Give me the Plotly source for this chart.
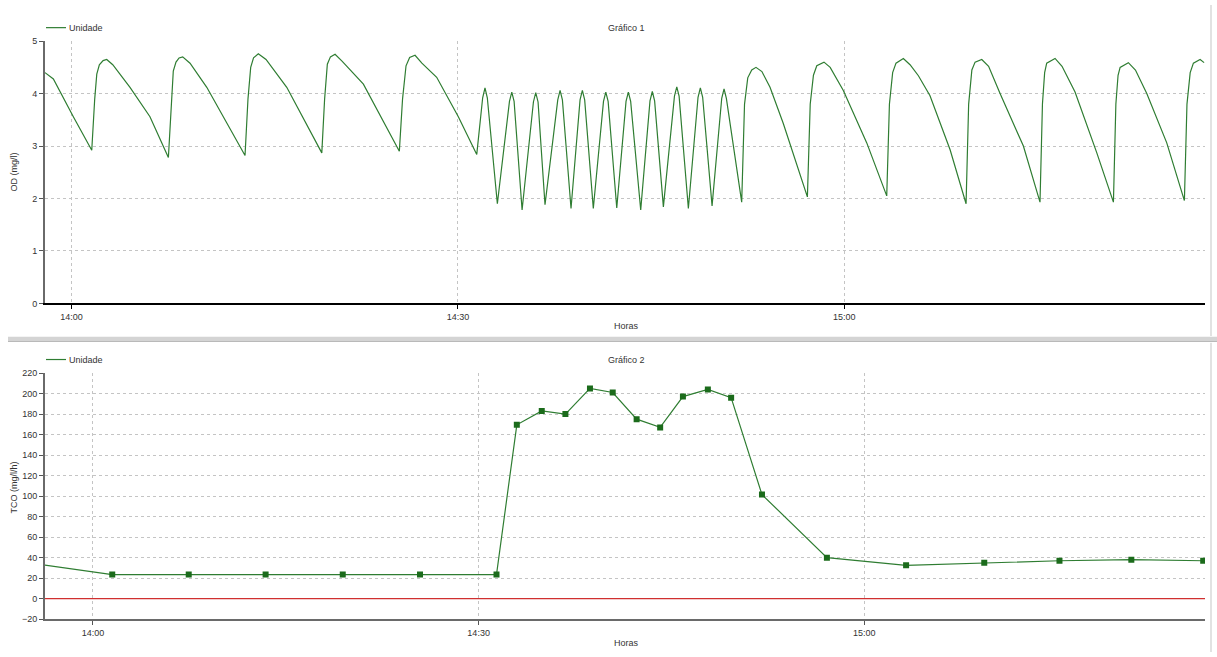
import pandas as pd
import plotly.graph_objects as go

# ---------------- data (minutes after 14:00) ----------------
BASE = pd.Timestamp("2024-01-01 14:00:00")

od_minutes = [-2.06, -1.41, 0.14, 1.57,
              1.80, 1.96, 2.16, 2.45, 2.73, 3.20, 4.54, 6.09, 7.52,
              7.75, 7.90, 8.11, 8.35, 8.63, 9.20, 10.50, 13.47,
              13.70, 13.91, 14.13, 14.50, 15.10, 16.71, 19.43,
              19.65, 19.86, 20.10, 20.46, 21.00, 22.66, 25.45,
              25.70, 25.97, 26.25, 26.67, 27.20, 28.35, 30.03, 31.46,
              31.92, 32.10, 32.28, 33.06,
              34.00, 34.18, 34.36, 34.98,
              35.86, 36.04, 36.22, 36.76,
              37.75, 37.93, 38.11, 38.78,
              39.48, 39.66, 39.84, 40.51,
              41.30, 41.48, 41.66, 42.33,
              43.05, 43.23, 43.41, 44.19,
              44.91, 45.09, 45.27, 45.95,
              46.81, 46.99, 47.17, 47.89,
              48.64, 48.82, 49.00, 49.73,
              50.48, 50.66, 50.84, 52.03,
              52.25, 52.50, 52.81, 53.14, 53.60, 54.23, 55.26, 57.13,
              57.35, 57.60, 57.86, 58.42, 58.90, 59.92, 61.74, 63.29,
              63.50, 63.75, 64.01, 64.58, 65.10, 65.75, 66.65, 68.21, 69.45,
              69.65, 69.90, 70.15, 70.67, 71.20, 72.09, 73.90, 75.19,
              75.38, 75.55, 75.71, 76.36, 76.90, 77.91, 79.60, 80.89,
              81.08, 81.25, 81.41, 82.05, 82.60, 83.48, 85.03, 86.40,
              86.60, 86.85, 87.10, 87.62, 87.93]
od_values = [4.40, 4.28, 3.56, 2.92,
             3.90, 4.37, 4.55, 4.63, 4.65, 4.55, 4.12, 3.56, 2.78,
             3.90, 4.43, 4.60, 4.68, 4.70, 4.58, 4.12, 2.82,
             3.90, 4.50, 4.68, 4.76, 4.65, 4.12, 2.87,
             3.90, 4.56, 4.70, 4.75, 4.62, 4.18, 2.90,
             3.90, 4.53, 4.69, 4.73, 4.58, 4.31, 3.56, 2.84,
             3.92, 4.11, 3.92, 1.90,
             3.85, 4.03, 3.85, 1.78,
             3.84, 4.02, 3.84, 1.88,
             3.88, 4.06, 3.88, 1.81,
             3.88, 4.06, 3.88, 1.81,
             3.85, 4.03, 3.85, 1.82,
             3.85, 4.03, 3.85, 1.78,
             3.86, 4.04, 3.86, 1.84,
             3.95, 4.13, 3.95, 1.81,
             3.93, 4.11, 3.93, 1.86,
             3.91, 4.09, 3.91, 1.93,
             3.80, 4.30, 4.45, 4.50, 4.42, 4.12, 3.43, 2.03,
             3.80, 4.35, 4.53, 4.60, 4.50, 4.06, 3.06, 2.05,
             3.80, 4.40, 4.58, 4.67, 4.55, 4.34, 3.96, 2.93, 1.90,
             3.80, 4.45, 4.60, 4.65, 4.52, 4.00, 3.00, 1.93,
             3.80, 4.40, 4.58, 4.67, 4.52, 4.03, 2.87, 1.93,
             3.80, 4.35, 4.50, 4.59, 4.45, 4.00, 3.06, 1.96,
             3.80, 4.40, 4.58, 4.65, 4.59]

tco_minutes = [-4.50, 1.50, 7.45, 13.43, 19.43, 25.44, 31.39, 32.97, 34.91, 36.75,
               38.66, 40.43, 42.29, 44.12, 45.89, 47.83, 49.64, 52.04, 57.09, 63.25,
               69.33, 75.18, 80.77, 86.36]
tco_values = [34.2, 23.5, 23.5, 23.5, 23.5, 23.5, 23.5, 169.5, 183.0, 180.0,
              205.0, 201.0, 175.0, 167.0, 197.0, 204.0, 196.0, 101.5, 40.0, 32.5,
              35.0, 37.0, 38.0, 37.0]

od_x_range = [-2.06, 88.0]
tco_x_range = [-3.73, 86.5]
od_y_range = [0, 5]
tco_y_range = [-20, 220]

# ---------------- helpers ----------------
def to_time(mins):
    return [BASE + pd.Timedelta(minutes=m) for m in mins]

W, H = 1217, 657
L, R = 45, 12
def px(xp):
    return (xp - L) / (W - L - R)
def py(yp):
    return 1 - yp / H

LINE_GREEN = "#2f7d32"
MARK_GREEN = "#1b6b1b"
GRID = "#c4c4c4"
TXT = "#333333"
FONT = "Liberation Sans, Arial, sans-serif"

fig = go.Figure()
fig.add_trace(go.Scatter(x=to_time(od_minutes), y=od_values, mode="lines",
                         line=dict(color=LINE_GREEN, width=1.2),
                         xaxis="x", yaxis="y", showlegend=False, name="Unidade"))
fig.add_trace(go.Scatter(x=to_time(tco_minutes), y=tco_values, mode="lines+markers",
                         line=dict(color=LINE_GREEN, width=1.2),
                         marker=dict(symbol="square", size=6, color=MARK_GREEN),
                         xaxis="x2", yaxis="y2", showlegend=False, name="Unidade"))

def fmt(t):
    return t.strftime("%Y-%m-%d %H:%M:%S.%f")

xcommon = dict(type="date", tickformat="%H:%M", dtick=30 * 60 * 1000,
               tick0=fmt(BASE), showgrid=True, gridcolor=GRID, griddash="3px,3px",
               gridwidth=1, zeroline=False, showline=True, ticks="outside",
               ticklen=4, tickfont=dict(size=9, color=TXT, family=FONT))
ycommon = dict(showgrid=True, gridcolor=GRID, griddash="3px,3px", gridwidth=1,
               zeroline=False, showline=True, linecolor="#6a6a6a", linewidth=2,
               ticks="outside", ticklen=4, tickcolor="#555",
               tickfont=dict(size=9, color=TXT, family=FONT))

fig.update_layout(
    width=W, height=H,
    margin=dict(l=L, r=R, t=0, b=0),
    paper_bgcolor="white", plot_bgcolor="white",
    font=dict(family=FONT, size=9, color=TXT),
    xaxis=dict(domain=[0, 1], anchor="y",
               range=[fmt(t) for t in to_time(od_x_range)],
               linecolor="black", linewidth=1.5, tickcolor="black", **xcommon),
    yaxis=dict(domain=[py(303), py(36.7)], anchor="x", range=od_y_range,
               dtick=1, **ycommon),
    xaxis2=dict(domain=[0, 1], anchor="y2",
                range=[fmt(t) for t in to_time(tco_x_range)],
                linecolor="#6a6a6a", linewidth=2, tickcolor="#555", **xcommon),
    yaxis2=dict(domain=[py(623.7), py(373.7)], anchor="x2", range=tco_y_range,
                dtick=20, **ycommon),
)

# zero reference line in red
fig.add_shape(type="line", xref="x2 domain", yref="y2", x0=0, x1=1, y0=0, y1=0,
              line=dict(color="#d03030", width=1.2))

# panel separator and right border
fig.add_shape(type="rect", xref="paper", yref="paper", x0=px(8), x1=px(1217),
              y0=py(341), y1=py(337), fillcolor="#d4d4d4", line=dict(width=0), layer="below")
fig.add_shape(type="line", xref="paper", yref="paper", x0=px(8), x1=px(1217),
              y0=py(341.5), y1=py(341.5), line=dict(color="#a8a8a8", width=1))
fig.add_shape(type="line", xref="paper", yref="paper", x0=px(1211), x1=px(1211),
              y0=py(0), y1=py(336), line=dict(color="#e2e2e2", width=2))
fig.add_shape(type="line", xref="paper", yref="paper", x0=px(1211), x1=px(1211),
              y0=py(343), y1=py(657), line=dict(color="#e2e2e2", width=2))

# legends (drawn manually)
for yl in (23, 360):
    fig.add_shape(type="line", xref="paper", yref="paper", x0=px(46), x1=px(66),
                  y0=py(yl), y1=py(yl), line=dict(color=LINE_GREEN, width=1.2))
    fig.add_annotation(x=px(67), y=py(yl), xref="paper", yref="paper", text="Unidade",
                       showarrow=False, xanchor="left", yanchor="middle",
                       font=dict(size=9, color=TXT, family=FONT))

# titles
ann = [
    (626, 23, "Gráfico 1", 0),
    (626, 326, "Horas", 0),
    (626, 360, "Gráfico 2", 0),
    (626, 648, "Horas", 0),
    (14, 170, "OD (mg/l)", -90),
    (14, 490, "TCO (mg/l/h)", -90),
]
for xa, ya, t, ang in ann:
    fig.add_annotation(x=px(xa), y=py(ya), xref="paper", yref="paper", text=t,
                       showarrow=False, xanchor="center", yanchor="middle",
                       textangle=ang, font=dict(size=9, color=TXT, family=FONT))

fig.write_html("out.html")
